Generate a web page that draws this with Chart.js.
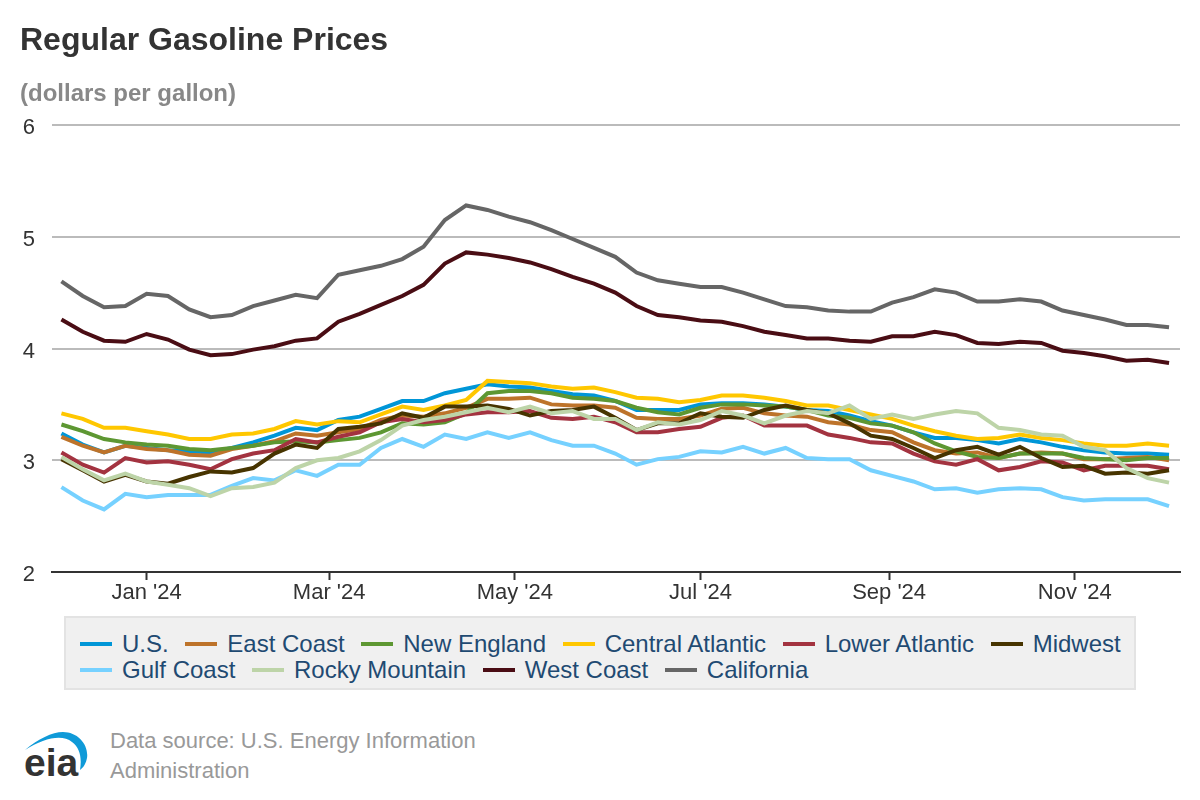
<!DOCTYPE html>
<html lang="en">
<head>
<meta charset="UTF-8">
<title>Regular Gasoline Prices</title>
<script src="https://cdn.jsdelivr.net/npm/chart.js"></script>
<style>
    html, body { margin: 0; padding: 0; background: #fff; }
    body { width: 1200px; height: 800px; position: relative; overflow: hidden; font-family: "Liberation Sans", Arial, sans-serif; }
    #chart { position: absolute; left: 0; top: 0; }
    .title { position: absolute; left: 20px; top: 21px; font-size: 32px; line-height: 36px; font-weight: bold; color: #333; }
    .subtitle { position: absolute; left: 20px; top: 79px; font-size: 24px; line-height: 28px; font-weight: bold; color: #888; }
    .legend { position: absolute; left: 64px; top: 616px; width: 1072px; height: 74px; box-sizing: border-box; background: #f0f0f0; border: 2px solid #e3e3e3; padding: 13px 0 0 14px; font-size: 24px; line-height: 26px; color: #1f4a72; }
    .legend-row { display: flex; height: 26px; }
    .legend-item { display: flex; align-items: center; margin-right: 16.6px; white-space: nowrap; }
    .legend-item i { display: block; width: 32px; height: 4px; margin-right: 10px; }
    .source { position: absolute; left: 110px; top: 726px; font-size: 22px; line-height: 30px; color: #999; width: 400px; }
    .logo { position: absolute; left: 0; top: 720px; }
</style>
</head>
<body>
<canvas id="chart" width="1200" height="620"></canvas>
<div class="title">Regular Gasoline Prices</div>
<div class="subtitle">(dollars per gallon)</div>
<div class="legend" id="legend"></div>
<svg class="logo" width="100" height="70">
    <path d="M25 30 C38 19 52 12 63 12 C78 12 89 25 87 38 C86 43 84 47 80 50 C82 38 80 28 72 22 C62 14 44 18 25 30 Z" fill="#0f9ad8"/>
    <text x="24" y="56" font-family="Liberation Sans" font-weight="bold" font-size="39" fill="#333">eia</text>
</svg>
<div class="source">Data source: U.S. Energy Information Administration</div>

<script>
const weekDates = ['2023-12-04','2023-12-11','2023-12-18','2023-12-25','2024-01-01','2024-01-08','2024-01-15','2024-01-22','2024-01-29',
    '2024-02-05','2024-02-12','2024-02-19','2024-02-26','2024-03-04','2024-03-11','2024-03-18','2024-03-25','2024-04-01','2024-04-08',
    '2024-04-15','2024-04-22','2024-04-29','2024-05-06','2024-05-13','2024-05-20','2024-05-27','2024-06-03','2024-06-10','2024-06-17',
    '2024-06-24','2024-07-01','2024-07-08','2024-07-15','2024-07-22','2024-07-29','2024-08-05','2024-08-12','2024-08-19','2024-08-26',
    '2024-09-02','2024-09-09','2024-09-16','2024-09-23','2024-09-30','2024-10-07','2024-10-14','2024-10-21','2024-10-28','2024-11-04',
    '2024-11-11','2024-11-18','2024-11-25','2024-12-02'];
const tickDates = ['2024-01-01','2024-03-01','2024-05-01','2024-07-01','2024-09-01','2024-11-01'];
const tickLabels = ["Jan '24","Mar '24","May '24","Jul '24","Sep '24","Nov '24"];
const yTicks = [2, 3, 4, 5, 6];

const usValues = [3.24,3.14,3.07,3.13,3.11,3.09,3.08,3.07,3.11,3.16,3.22,3.29,3.27,3.36,3.39,3.46,3.53,3.53,3.60,3.64,3.68,3.66,3.65,3.62,3.59,3.58,3.53,3.45,3.45,3.45,3.50,3.51,3.51,3.50,3.48,3.45,3.44,3.40,3.35,3.31,3.25,3.20,3.20,3.18,3.15,3.19,3.16,3.12,3.09,3.07,3.06,3.06,3.05];
const eastCoast = [3.21,3.13,3.07,3.13,3.10,3.09,3.05,3.04,3.10,3.13,3.17,3.24,3.22,3.25,3.28,3.36,3.40,3.39,3.42,3.47,3.55,3.55,3.56,3.50,3.49,3.49,3.47,3.38,3.37,3.37,3.40,3.46,3.47,3.42,3.40,3.39,3.34,3.32,3.27,3.25,3.16,3.09,3.06,3.07,3.02,3.06,3.07,3.06,3.01,3.01,3.02,3.03,3.00];
const newEngland = [3.32,3.26,3.19,3.16,3.14,3.13,3.10,3.09,3.11,3.13,3.16,3.17,3.16,3.18,3.20,3.25,3.33,3.32,3.34,3.42,3.60,3.62,3.62,3.60,3.56,3.55,3.53,3.47,3.43,3.41,3.47,3.50,3.50,3.49,3.48,3.45,3.40,3.38,3.33,3.31,3.25,3.15,3.08,3.03,3.02,3.06,3.06,3.06,3.02,3.01,3.00,3.02,3.02];
const centralAtlantic = [3.42,3.37,3.29,3.29,3.26,3.23,3.19,3.19,3.23,3.24,3.28,3.35,3.32,3.35,3.34,3.41,3.48,3.45,3.49,3.54,3.71,3.70,3.69,3.66,3.64,3.65,3.61,3.56,3.55,3.52,3.54,3.58,3.58,3.56,3.53,3.49,3.49,3.45,3.41,3.37,3.31,3.26,3.22,3.19,3.20,3.23,3.20,3.18,3.15,3.13,3.13,3.15,3.13];
const lowerAtlantic = [3.07,2.96,2.89,3.02,2.98,2.99,2.96,2.92,3.01,3.06,3.09,3.19,3.16,3.21,3.25,3.34,3.37,3.34,3.36,3.41,3.43,3.43,3.44,3.38,3.37,3.39,3.34,3.25,3.25,3.28,3.30,3.38,3.40,3.31,3.31,3.31,3.23,3.20,3.16,3.15,3.06,2.99,2.96,3.01,2.91,2.94,2.99,2.98,2.91,2.95,2.95,2.95,2.92];
const midwest = [3.01,2.91,2.81,2.87,2.81,2.79,2.85,2.90,2.89,2.93,3.06,3.14,3.11,3.28,3.30,3.33,3.42,3.38,3.48,3.48,3.49,3.46,3.40,3.44,3.45,3.48,3.38,3.27,3.33,3.33,3.42,3.39,3.38,3.45,3.49,3.45,3.42,3.33,3.22,3.19,3.11,3.02,3.09,3.12,3.05,3.12,3.02,2.94,2.95,2.88,2.89,2.88,2.91];
const gulfCoast = [2.76,2.64,2.56,2.70,2.67,2.69,2.69,2.69,2.77,2.84,2.82,2.91,2.86,2.96,2.96,3.11,3.19,3.12,3.23,3.19,3.25,3.20,3.25,3.18,3.13,3.13,3.06,2.96,3.01,3.03,3.08,3.07,3.12,3.06,3.11,3.02,3.01,3.01,2.91,2.86,2.81,2.74,2.75,2.71,2.74,2.75,2.74,2.67,2.64,2.65,2.65,2.65,2.59];
const rockyMountain = [3.03,2.92,2.82,2.88,2.81,2.78,2.75,2.68,2.75,2.76,2.80,2.93,3.00,3.02,3.08,3.18,3.31,3.36,3.39,3.43,3.47,3.43,3.48,3.42,3.44,3.37,3.37,3.27,3.34,3.32,3.36,3.44,3.40,3.33,3.40,3.44,3.42,3.49,3.37,3.41,3.37,3.41,3.44,3.42,3.29,3.27,3.23,3.22,3.12,3.09,2.93,2.84,2.80];
const westCoast = [4.26,4.15,4.07,4.06,4.13,4.08,3.99,3.94,3.95,3.99,4.02,4.07,4.09,4.24,4.31,4.39,4.47,4.57,4.76,4.86,4.84,4.81,4.77,4.71,4.64,4.58,4.50,4.38,4.30,4.28,4.25,4.24,4.20,4.15,4.12,4.09,4.09,4.07,4.06,4.11,4.11,4.15,4.12,4.05,4.04,4.06,4.05,3.98,3.96,3.93,3.89,3.90,3.87];
const california = [4.60,4.47,4.37,4.38,4.49,4.47,4.35,4.28,4.30,4.38,4.43,4.48,4.45,4.66,4.70,4.74,4.80,4.91,5.15,5.28,5.24,5.18,5.13,5.06,4.98,4.90,4.82,4.68,4.61,4.58,4.55,4.55,4.50,4.44,4.38,4.37,4.34,4.33,4.33,4.41,4.46,4.53,4.50,4.42,4.42,4.44,4.42,4.34,4.30,4.26,4.21,4.21,4.19];

const seriesNames = ['U.S.','East Coast','New England','Central Atlantic','Lower Atlantic','Midwest','Gulf Coast','Rocky Mountain','West Coast','California'];
const seriesValues = [usValues,eastCoast,newEngland,centralAtlantic,lowerAtlantic,midwest,gulfCoast,rockyMountain,westCoast,california];
const seriesColors = ['#0096d7','#bd732a','#5d9732','#ffc700','#a33340','#473400','#76d1ff','#bdd4a8','#4a0d14','#666666'];

// days since 1 Jan 2024, the x axis is linear so ticks can sit on the month starts
function toDay(s) {
    const p = s.split('-');
    return (Date.UTC(+p[0], +p[1] - 1, +p[2]) - Date.UTC(2024, 0, 1)) / 86400000;
}
const weekDays = weekDates.map(toDay);
const tickDays = tickDates.map(toDay);

Chart.defaults.font.family = '"Liberation Sans", Arial, sans-serif';

new Chart(document.getElementById('chart'), {
    type: 'line',
    data: {
        datasets: seriesNames.map((name, i) => ({
            label: name,
            data: seriesValues[i].map((v, j) => ({ x: weekDays[j], y: v })),
            borderColor: seriesColors[i],
            backgroundColor: seriesColors[i],
            borderWidth: 4,
            pointRadius: 0,
            tension: 0,
            fill: false,
            order: -i   // later series are painted on top
        }))
    },
    options: {
        responsive: false,
        animation: false,
        layout: { padding: { top: 125, right: 20, left: 0, bottom: 0 } },
        plugins: { legend: { display: false }, title: { display: false }, tooltip: { enabled: false } },
        scales: {
            x: {
                type: 'linear',
                min: -31.1,
                max: 339.6,
                afterBuildTicks: scale => { scale.ticks = tickDays.map(v => ({ value: v })); },
                afterFit: scale => { scale.height = 48; },
                border: { color: '#333', width: 2 },
                grid: { drawOnChartArea: false, drawTicks: true, tickLength: 8, tickColor: '#333', tickWidth: 2 },
                ticks: {
                    autoSkip: false,
                    maxRotation: 0,
                    padding: 0,
                    color: '#333',
                    font: { size: 22 },
                    callback: (v) => tickLabels[tickDays.indexOf(v)]
                }
            },
            y: {
                min: 2,
                max: 6,
                afterBuildTicks: scale => { scale.ticks = yTicks.map(v => ({ value: v })); },
                afterFit: scale => { scale.width = 52; },
                border: { display: false },
                grid: { color: '#bbbbbb', lineWidth: 2, drawTicks: false },
                ticks: { padding: 17, labelOffset: 3, color: '#333', font: { size: 22 } }
            }
        }
    }
});

// legend box, two rows like the original
const legendRows = [[0, 1, 2, 3, 4, 5], [6, 7, 8, 9]];
const legend = document.getElementById('legend');
legendRows.forEach(row => {
    const rowDiv = document.createElement('div');
    rowDiv.className = 'legend-row';
    row.forEach(i => {
        const item = document.createElement('div');
        item.className = 'legend-item';
        const swatch = document.createElement('i');
        swatch.style.background = seriesColors[i];
        item.appendChild(swatch);
        item.appendChild(document.createTextNode(seriesNames[i]));
        rowDiv.appendChild(item);
    });
    legend.appendChild(rowDiv);
});
</script>
</body>
</html>
